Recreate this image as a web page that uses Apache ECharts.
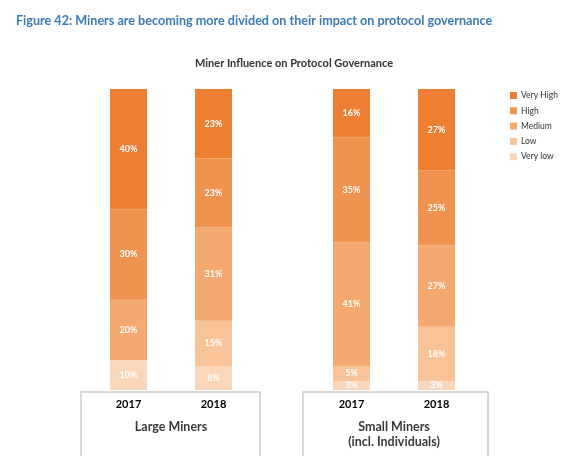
<!DOCTYPE html>
<html><head><meta charset="utf-8">
<script src="https://cdn.jsdelivr.net/npm/echarts@6/dist/echarts.min.js"></script>
<style>html,body{margin:0;padding:0;background:#fff}#c{width:574px;height:469px}</style>
</head><body><div id="c"></div>
<script>
const years = ['2017', '2018'];
const groups = ['Large Miners', 'Small Miners\n(incl. Individuals)'];
const levels = ['Very low', 'Low', 'Medium', 'High', 'Very High'];
const colors = ['#FAD6BA', '#F8C398', '#F4A970', '#F19350', '#ED7F33'];
// values per level: [2017, 2018]
const largeMiners = {
  'Very low': [10, 8],
  'Low': [0, 15],
  'Medium': [20, 31],
  'High': [30, 23],
  'Very High': [40, 23]
};
const smallMiners = {
  'Very low': [3, 3],
  'Low': [5, 18],
  'Medium': [41, 27],
  'High': [35, 25],
  'Very High': [16, 27]
};
const groupData = [largeMiners, smallMiners];

const FONT = 'Lato';
const chart = echarts.init(document.getElementById('c'), null, {renderer: 'canvas'});
const grids = [
  {left: 86, top: 89, width: 170, height: 301},
  {left: 309, top: 89, width: 170, height: 301}
];
const xAxes = groups.map((g, i) => ({
  type: 'category', gridIndex: i, data: years,
  axisLine: {show: false}, axisTick: {show: false},
  axisLabel: {margin: 9, color: '#000', fontFamily: FONT, fontWeight: 'bold', fontSize: 11},
  name: g, nameLocation: 'middle', nameGap: 29,
  nameTextStyle: {color: '#3a3a3a', fontFamily: FONT, fontWeight: 'bold', fontSize: 12.5, lineHeight: 15}
}));
const yAxes = groups.map((g, i) => ({
  type: 'value', gridIndex: i, min: 0, max: 100, show: false
}));
const series = [];
groupData.forEach((gd, gi) => {
  levels.forEach((lv, li) => {
    series.push({
      name: lv, type: 'bar', stack: 'g' + gi, xAxisIndex: gi, yAxisIndex: gi,
      barWidth: 37,
      itemStyle: {color: colors[li]},
      label: {
        show: true, position: 'inside', color: '#fff', fontFamily: FONT,
        fontWeight: 'bold', fontSize: 9,
        formatter: p => p.value > 0 ? p.value + '%' : ''
      },
      data: gd[lv]
    });
  });
});
const boxLine = {stroke: '#cccccc', lineWidth: 1.5};
chart.setOption({
  animation: false,
  title: [
    {text: 'Figure 42: Miners are becoming more divided on their impact on protocol governance',
     left: 11, top: 9,
     textStyle: {color: '#3A7AB5', fontFamily: FONT, fontWeight: 'bold', fontSize: 12.6}},
    {text: 'Miner Influence on Protocol Governance', left: 289, top: 53, textAlign: 'center',
     textStyle: {color: '#333', fontFamily: FONT, fontWeight: 'bold', fontSize: 11}}
  ],
  legend: {
    data: levels.slice().reverse(), orient: 'vertical', left: 505, top: 86,
    itemWidth: 7, itemHeight: 7, itemGap: 6.3, icon: 'rect',
    textStyle: {color: '#333', fontFamily: FONT, fontSize: 8.5, padding: [0, 0, 0, -1]}
  },
  grid: grids, xAxis: xAxes, yAxis: yAxes, series: series,
  graphic: [
    {type: 'polyline', silent: true, shape: {points: [[81, 456], [81, 392], [260, 392], [260, 456]]}, style: Object.assign({fill: null}, boxLine)},
    {type: 'polyline', silent: true, shape: {points: [[303, 456], [303, 392], [488, 392], [488, 456]]}, style: Object.assign({fill: null}, boxLine)}
  ]
});
</script></body></html>
